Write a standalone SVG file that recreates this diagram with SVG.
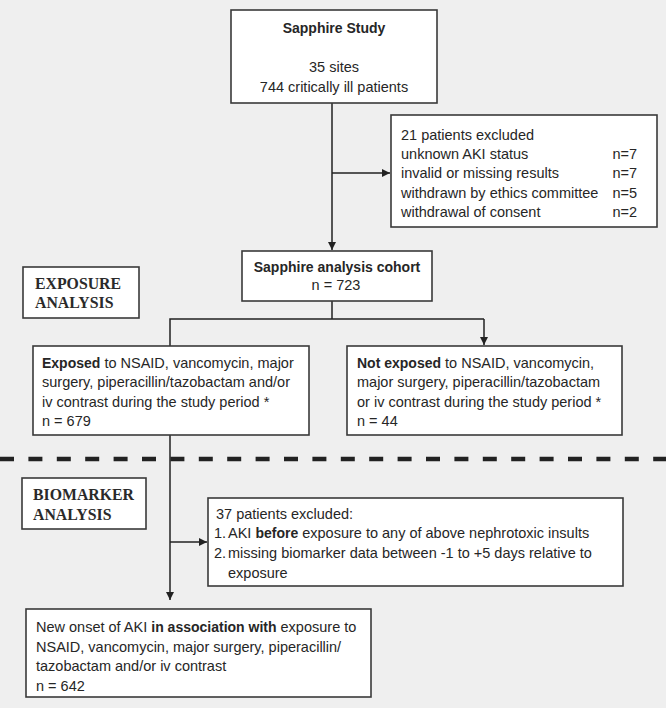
<svg xmlns="http://www.w3.org/2000/svg" width="666" height="708" viewBox="0 0 666 708">
<style>
.bg{fill:#efefef}
.box{fill:#ffffff;stroke:#3a3a3a;stroke-width:1.6}
.t{font-family:"Liberation Sans",Arial,sans-serif;font-size:14.5px;fill:#262626}
.tb{font-family:"Liberation Sans",Arial,sans-serif;font-size:14px;font-weight:bold;fill:#262626}
.b{font-weight:bold;font-size:14px}
.s{font-family:"Liberation Serif","Times New Roman",serif;font-size:15.8px;font-weight:bold;fill:#2a2a2a}
.c{text-anchor:middle}
.e{text-anchor:end}
.ln{fill:none;stroke:#222;stroke-width:1.5}
.dash{fill:none;stroke:#222;stroke-width:4.5;stroke-dasharray:14 14.4}
</style>
<defs>
<marker id="ah" markerUnits="userSpaceOnUse" markerWidth="9" markerHeight="8" refX="8" refY="4" orient="auto">
<path d="M0,0 L8,4 L0,8 Z" fill="#222"/>
</marker>
</defs>
<rect class="bg" x="0" y="0" width="666" height="708"/>

<g id="connectors">
<line class="ln" x1="332" y1="103" x2="332" y2="250" marker-end="url(#ah)"/>
<line class="ln" x1="332" y1="173" x2="390" y2="173" marker-end="url(#ah)"/>
<polyline class="ln" points="332,301 332,319"/>
<polyline class="ln" points="170,346 170,319 484,319"/>
<line class="ln" x1="484" y1="319" x2="484" y2="345" marker-end="url(#ah)"/>
<line class="ln" x1="170" y1="435" x2="170" y2="600" marker-end="url(#ah)"/>
<line class="ln" x1="170" y1="542" x2="207" y2="542" marker-end="url(#ah)"/>
</g>

<line id="divider" class="dash" x1="0" y1="459" x2="666" y2="459"/>

<g id="sapphire-study">
<rect class="box" x="231" y="10" width="206" height="93"/>
<text class="tb c" x="334" y="33">Sapphire Study</text>
<text class="t c" x="334" y="72">35 sites</text>
<text class="t c" x="334" y="92">744 critically ill patients</text>
</g>

<g id="excluded-21">
<rect class="box" x="391" y="115" width="266" height="112"/>
<text class="t" x="401" y="140">21 patients excluded</text>
<text class="t" x="401" y="159">unknown AKI status</text>
<text class="t e" x="637" y="159">n=7</text>
<text class="t" x="401" y="178">invalid or missing results</text>
<text class="t e" x="637" y="178">n=7</text>
<text class="t" x="401" y="198">withdrawn by ethics committee</text>
<text class="t e" x="637" y="198">n=5</text>
<text class="t" x="401" y="217">withdrawal of consent</text>
<text class="t e" x="637" y="217">n=2</text>
</g>

<g id="analysis-cohort">
<rect class="box" x="242" y="251" width="190" height="50"/>
<text class="tb c" x="337" y="272">Sapphire analysis cohort</text>
<text class="t c" x="336" y="290">n = 723</text>
</g>

<g id="exposure-label">
<rect class="box" x="23" y="267" width="116" height="51"/>
<text class="s" x="35" y="289">EXPOSURE</text>
<text class="s" x="35" y="308">ANALYSIS</text>
</g>

<g id="exposed">
<rect class="box" x="33" y="346" width="276" height="89"/>
<text class="t" x="42" y="368"><tspan class="b">Exposed</tspan> to NSAID, vancomycin, major</text>
<text class="t" x="42" y="387">surgery, piperacillin/tazobactam and/or</text>
<text class="t" x="42" y="407">iv contrast during the study period *</text>
<text class="t" x="42" y="426">n = 679</text>
</g>

<g id="not-exposed">
<rect class="box" x="347" y="346" width="275" height="89"/>
<text class="t" x="357" y="368"><tspan class="b">Not exposed</tspan> to NSAID, vancomycin,</text>
<text class="t" x="357" y="387">major surgery, piperacillin/tazobactam</text>
<text class="t" x="357" y="407">or iv contrast during the study period *</text>
<text class="t" x="357" y="426">n = 44</text>
</g>

<g id="biomarker-label">
<rect class="box" x="22" y="478" width="124" height="51"/>
<text class="s" x="33" y="500">BIOMARKER</text>
<text class="s" x="33" y="520">ANALYSIS</text>
</g>

<g id="excluded-37">
<rect class="box" x="208" y="498" width="415" height="88"/>
<text class="t" x="216" y="519">37 patients excluded:</text>
<text class="t" x="214" y="538">1.</text>
<text class="t" x="228" y="538">AKI <tspan class="b">before</tspan> exposure to any of above nephrotoxic insults</text>
<text class="t" x="214" y="558">2.</text>
<text class="t" x="228" y="558">missing biomarker data between -1 to +5 days relative to</text>
<text class="t" x="228" y="578">exposure</text>
</g>

<g id="new-onset-aki">
<rect class="box" x="26" y="609" width="345" height="88"/>
<text class="t" x="36" y="632">New onset of AKI <tspan class="b">in association with</tspan> exposure to</text>
<text class="t" x="36" y="652">NSAID, vancomycin, major surgery, piperacillin/</text>
<text class="t" x="36" y="671">tazobactam and/or iv contrast</text>
<text class="t" x="36" y="691">n = 642</text>
</g>
</svg>
